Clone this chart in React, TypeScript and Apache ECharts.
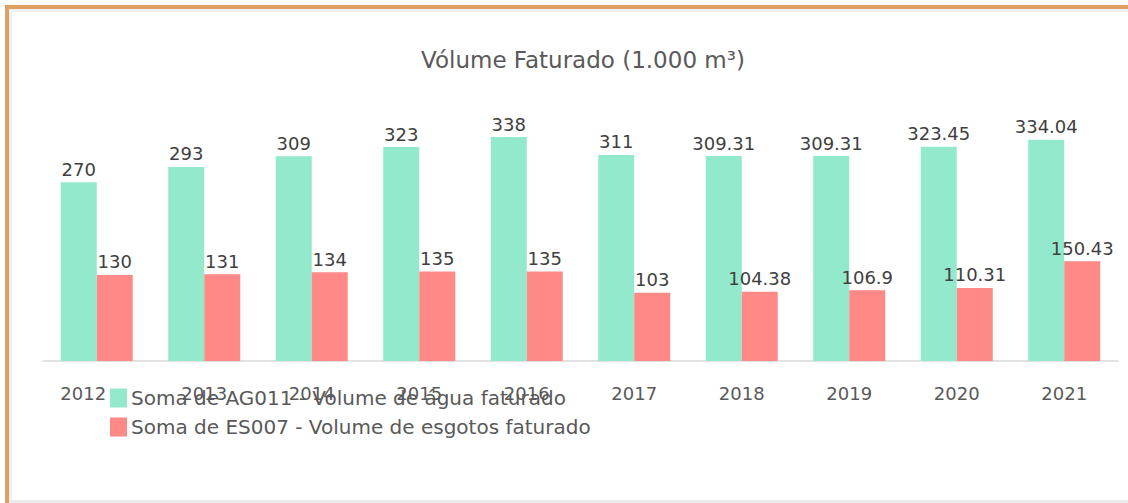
import React, { useEffect, useRef } from "react";
import * as echarts from "echarts";

const categories = ["2012", "2013", "2014", "2015", "2016", "2017", "2018", "2019", "2020", "2021"];
const aguaValues = [270, 293, 309, 323, 338, 311, 309.31, 309.31, 323.45, 334.04];
const esgotoValues = [130, 131, 134, 135, 135, 103, 104.38, 106.9, 110.31, 150.43];
const seriesNames = [
  "Soma de AG011 - Volume de água faturado",
  "Soma de ES007 - Volume de esgotos faturado",
];
const titleText = "Vólume Faturado (1.000 m³)";

const FONT = "'DejaVu Sans', sans-serif";

export default function App() {
  const ref = useRef<HTMLDivElement>(null);
  useEffect(() => {
    if (!ref.current) return;
    const chart = echarts.init(ref.current, null, { renderer: "svg" });
    const label = {
      show: true,
      position: "top",
      distance: 4,
      color: "#404040",
      fontSize: 18,
      fontFamily: FONT,
    };
    const axisData = categories.map((c, i) =>
      i === 0 ? { value: c, textStyle: { padding: [0, 27, 0, 0] } } : c
    );
    chart.setOption({
      animation: false,
      backgroundColor: "#ffffff",
      title: {
        text: titleText,
        left: 416,
        top: 43,
        textStyle: { color: "#595959", fontSize: 23, fontWeight: "normal", fontFamily: FONT },
      },
      legend: {
        orient: "vertical",
        left: 105,
        top: 383,
        icon: "rect",
        itemWidth: 17,
        itemHeight: 19,
        itemGap: 9,
        textStyle: { color: "#595959", fontSize: 20, fontFamily: FONT, padding: [0, 0, 0, -1] },
        data: seriesNames,
      },
      grid: { left: 43, right: 10, top: 96, bottom: 142 },
      xAxis: {
        type: "category",
        data: axisData,
        axisLine: { show: true, lineStyle: { color: "#D9D9D9", width: 1.5 } },
        axisTick: { show: false },
        axisLabel: { color: "#595959", fontSize: 18, fontFamily: FONT, margin: 23 },
      },
      yAxis: {
        type: "value",
        min: 0,
        max: 400,
        show: false,
        splitLine: { show: false },
      },
      series: [
        {
          name: seriesNames[0],
          type: "bar",
          data: aguaValues,
          barWidth: 36,
          barGap: "0%",
          itemStyle: { color: "#93E9CC" },
          label,
        },
        {
          name: seriesNames[1],
          type: "bar",
          data: esgotoValues,
          barWidth: 36,
          barGap: "0%",
          itemStyle: { color: "#FF8987" },
          label,
        },
      ],
      graphic: [
        { type: "rect", shape: { x: 9, y: 9, width: 1119, height: 3 }, style: { fill: "#F0F0F0" }, silent: true },
        { type: "rect", shape: { x: 9, y: 9, width: 3, height: 494 }, style: { fill: "#F0F0F0" }, silent: true },
        { type: "rect", shape: { x: 5, y: 5, width: 1123, height: 4 }, style: { fill: "#DDA062" }, silent: true },
        { type: "rect", shape: { x: 5, y: 5, width: 4, height: 498 }, style: { fill: "#DDA062" }, silent: true },
        { type: "rect", shape: { x: 9, y: 500, width: 1119, height: 3 }, style: { fill: "#EBEBEB" }, silent: true },
      ],
    });
    return () => chart.dispose();
  }, []);
  return (
    <div
      ref={ref}
      style={{ position: "absolute", left: 0, top: 0, width: 1128, height: 503 }}
    />
  );
}
